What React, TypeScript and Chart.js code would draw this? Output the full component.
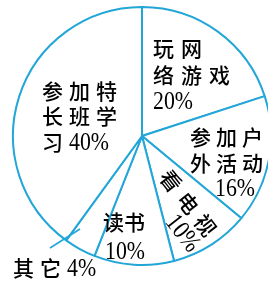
import React, { useEffect, useRef } from 'react';
import { Chart, registerables } from 'chart.js';

Chart.register(...registerables);

// ---- data ----
const categories = ['玩网络游戏', '参加户外活动', '看电视', '读书', '其它', '参加特长班学习'];
const percents = [20, 16, 10, 10, 4, 40];
// label text lines per slice; "{p}" is replaced by the slice percentage
const labelLines = [
  ['玩网', '络游戏', '{p}'],
  ['参加户', '外活动', '{p}'],
  ['看电视', '{p}'],
  ['读书', '{p}'],
  ['其它{p}'],
  ['参加特', '长班学', '习{p}'],
];

// ---- style / layout ----
const LINE = '#22a6d8';
const TEXT = '#000000';
const CJK_FONT = '"Noto Sans CJK SC"';
const LATIN_FONT = '"Liberation Serif"';
type LineLayout = [number, number, 'left' | 'center'];
const labelLayout: { rot: number; adv: number; lines: LineLayout[] }[] = [
  { rot: 0, adv: 28, lines: [[11, -88, 'left'], [11, -61, 'left'], [11, -35, 'left']] },
  { rot: 0, adv: 26, lines: [[48, 1, 'left'], [48, 27, 'left'], [73, 52, 'left']] },
  { rot: 52, adv: 28, lines: [[46, 67, 'center'], [41, 97, 'center']] },
  { rot: 0, adv: 21, lines: [[-39, 86, 'left'], [-37, 115, 'left']] },
  { rot: 0, adv: 27, lines: [[-129, 132, 'left']] },
  { rot: 0, adv: 27, lines: [[-100, -45, 'left'], [-100, -20, 'left'], [-100, 6, 'left']] },
];
const leader = { from: [-62, 93], to: [-92, 112] };

const CJK_SIZE = 21;
const CJK_WEIGHT = 500;
const LATIN_SIZE = 26;
const LATIN_SCALE = 0.84;

const isCJK = (ch: string) => /[\u3400-\u9fff]/.test(ch);

function measure(ctx: CanvasRenderingContext2D, text: string, adv: number) {
  let w = 0;
  const chars = Array.from(text);
  chars.forEach((ch, i) => {
    if (isCJK(ch)) {
      w += i === chars.length - 1 ? CJK_SIZE : adv;
    } else {
      ctx.font = `${LATIN_SIZE}px ${LATIN_FONT}`;
      w += ctx.measureText(ch).width * LATIN_SCALE;
    }
  });
  return w;
}

function drawMixed(ctx: CanvasRenderingContext2D, text: string, x: number, y: number, adv: number) {
  let cx = x;
  for (const ch of Array.from(text)) {
    if (isCJK(ch)) {
      ctx.font = `${CJK_WEIGHT} ${CJK_SIZE}px ${CJK_FONT}`;
      ctx.fillText(ch, cx, y);
      cx += adv;
    } else {
      ctx.font = `${LATIN_SIZE}px ${LATIN_FONT}`;
      const w = ctx.measureText(ch).width;
      ctx.save();
      ctx.translate(cx, y + 1);
      ctx.scale(LATIN_SCALE, 1);
      ctx.fillText(ch, 0, 0);
      ctx.restore();
      cx += w * LATIN_SCALE;
    }
  }
}

const labelPlugin = {
  id: 'sliceLabels',
  afterDatasetsDraw(chart: any) {
    const meta = chart.getDatasetMeta(0);
    if (!meta.data.length) return;
    const { x: cx, y: cy } = meta.data[0];
    const ctx: CanvasRenderingContext2D = chart.ctx;
    ctx.save();
    // leader line for the small slice
    ctx.strokeStyle = LINE;
    ctx.lineWidth = 1.6;
    ctx.beginPath();
    ctx.moveTo(cx + leader.from[0], cy + leader.from[1]);
    ctx.lineTo(cx + leader.to[0], cy + leader.to[1]);
    ctx.stroke();

    ctx.fillStyle = TEXT;
    ctx.textAlign = 'left';
    ctx.textBaseline = 'middle';
    labelLines.forEach((lines, i) => {
      const lay = labelLayout[i];
      lines.forEach((raw, j) => {
        const text = raw.replace('{p}', `${percents[i]}%`);
        const [dx, dy, align] = lay.lines[j];
        ctx.save();
        ctx.translate(cx + dx, cy + dy);
        if (lay.rot) ctx.rotate((lay.rot * Math.PI) / 180);
        const w = measure(ctx, text, lay.adv);
        const startX = align === 'center' ? -w / 2 : 0;
        drawMixed(ctx, text, startX, 0, lay.adv);
        ctx.restore();
      });
    });
    ctx.restore();
  },
};

export default function App() {
  const ref = useRef<HTMLCanvasElement>(null);
  useEffect(() => {
    document.body.style.margin = '0';
    const chart = new Chart(ref.current as HTMLCanvasElement, {
      type: 'pie',
      data: {
        labels: categories,
        datasets: [
          {
            data: percents,
            backgroundColor: '#ffffff',
            borderColor: LINE,
            borderWidth: 2,
            clip: false as any,
          } as any,
        ],
      },
      options: {
        responsive: false,
        animation: false,
        radius: 129,
        layout: { padding: { left: 16, right: 0, top: 0, bottom: 17 } },
        plugins: { legend: { display: false }, tooltip: { enabled: false } },
      } as any,
      plugins: [labelPlugin],
    });
    return () => chart.destroy();
  }, []);
  return (
    <div style={{ width: 268, height: 289, background: '#fff' }}>
      <canvas ref={ref} width={268} height={289} style={{ display: 'block' }} />
    </div>
  );
}
